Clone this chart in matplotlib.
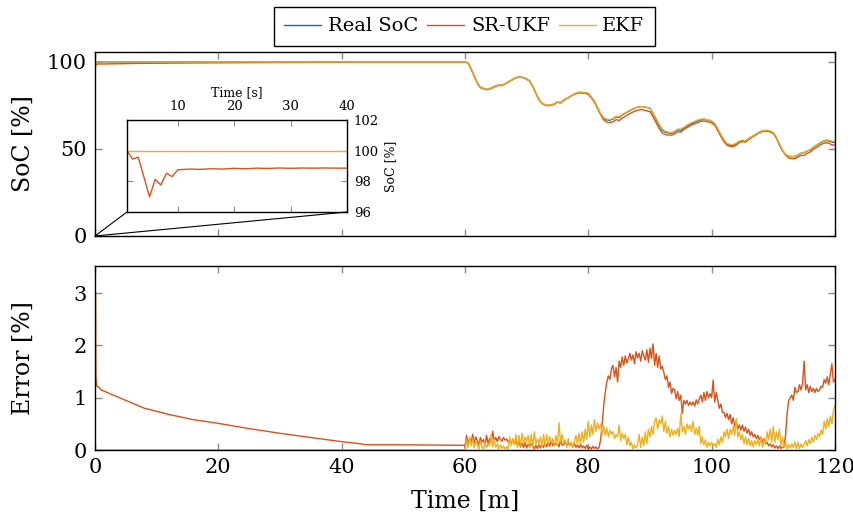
import numpy as np
import matplotlib.pyplot as plt
from matplotlib.patches import ConnectionPatch

plt.rcParams['font.family'] = ['DejaVu Serif']

C_REAL = '#0072BD'
C_UKF = '#D95319'
C_EKF = '#EDB120'

# ---- data (time in minutes) ----
# first hour: battery at rest, SoC 100 %
t_early = [0, 0.08, 0.15, 0.3, 0.67, 1, 2, 5, 8, 12, 16, 20, 25, 30, 35, 40, 43, 44, 50, 55, 60]
err_ukf_early = [0, 3.0, 1.4, 1.22, 1.2, 1.15, 1.10, 0.95, 0.80, 0.68, 0.58, 0.51, 0.41,
                 0.32, 0.24, 0.16, 0.12, 0.10, 0.10, 0.095, 0.09]
err_ekf_early = [0] * len(t_early)
soc_real_early = [100] * len(t_early)

# second hour, real SoC every 0.5 min from 60 to 120
soc_real_late = [
    100, 99.5, 96, 92, 88, 85.5, 84.8, 84.3, 84.6, 85.5, 86.2, 86.8, 86.5, 87.5, 88.5, 89.5,
    90.5, 91.2, 91.3, 91.0, 90.2, 89.0, 86.0, 82.0, 78.5, 76.2, 75.3, 75.0, 75.3, 75.8, 77.0,
    76.6, 78.0, 79.0, 80.0, 81.0, 81.8, 82.4, 82.3, 82.0, 81.6, 79.5, 77.0, 73.5, 70.0, 67.5,
    66.7, 66.5, 67.2, 68.5, 68.0, 69.5, 70.5, 71.5, 72.5, 73.3, 74.0, 74.3, 74.2, 73.8, 73.4,
    70.5, 67.0, 63.5, 60.8, 59.6, 59.2, 59.0, 59.8, 61.0, 60.7, 62.0, 63.2, 64.2, 65.0, 65.8,
    66.5, 67.0, 66.9, 66.5, 66.0, 64.5, 61.5, 58.0, 55.0, 52.8, 52.2, 52.0, 52.8, 54.2, 54.8,
    54.4, 55.8, 57.0, 58.0, 59.2, 60.0, 60.5, 60.4, 60.0, 59.0, 56.5, 52.5, 49.0, 46.8, 45.8,
    45.6, 45.6, 46.5, 47.5, 48.0, 48.8, 49.5, 51.0, 52.0, 53.2, 54.2, 54.8, 54.6, 54.0, 53.6]

# absolute errors every 0.25 min from 60 to 120 (one row per minute)
err_ukf_late = [
    0.05, 0.28, 0.10, 0.22,  0.14, 0.30, 0.12, 0.25,  0.18, 0.10, 0.24, 0.15,
    0.20, 0.08, 0.28, 0.12,  0.22, 0.15, 0.36, 0.18,  0.24, 0.16, 0.26, 0.20,
    0.17, 0.24, 0.19, 0.21,  0.15, 0.20, 0.14, 0.18,  0.12, 0.17, 0.09, 0.15,
    0.06, 0.13, 0.05, 0.14,  0.04, 0.11, 0.06, 0.12,  0.08, 0.02, 0.09, 0.03,
    0.10, 0.04, 0.12, 0.05,  0.14, 0.06, 0.16, 0.07,  0.18, 0.08, 0.14, 0.10,
    0.12, 0.06, 0.20, 0.09,  0.10, 0.16, 0.08, 0.14,  0.08, 0.13, 0.06, 0.12,
    0.05, 0.10, 0.04, 0.11,  0.04, 0.08, 0.03, 0.09,  0.02, 0.06, 0.02, 0.07,
    0.03, 0.06, 0.02, 0.05,  0.20, 0.50, 0.85, 1.10,  1.30, 1.42, 1.35, 1.55,
    1.62, 1.40, 1.58, 1.30,  1.70, 1.58, 1.78, 1.62,  1.80, 1.66, 1.75, 1.85,
    1.72, 1.82, 1.65, 1.88,  1.76, 1.85, 1.70, 1.90,  1.80, 1.72, 1.92, 1.68,
    1.95, 1.75, 2.03, 1.62,  1.85, 1.58, 1.80, 1.55,  1.60, 1.48, 1.35, 1.42,
    1.20, 1.30, 1.08, 1.18,  1.15, 0.98, 1.12, 0.95,  1.05, 0.70, 0.95, 0.88,
    0.95, 0.85, 0.92, 0.86,  0.92, 0.84, 0.96, 0.88,  0.98, 1.05, 0.92, 1.10,
    0.95, 1.12, 1.00, 1.08,  1.00, 1.34, 0.92, 1.10,  0.95, 0.80, 0.88, 0.72,
    0.72, 0.62, 0.70, 0.58,  0.68, 0.50, 0.62, 0.45,  0.55, 0.40, 0.48, 0.38,
    0.48, 0.36, 0.44, 0.32,  0.40, 0.28, 0.35, 0.25,  0.30, 0.22, 0.28, 0.20,
    0.25, 0.15, 0.22, 0.12,  0.15, 0.08, 0.12, 0.06,  0.10, 0.04, 0.08, 0.03,
    0.08, 0.03, 0.06, 0.05,  0.30, 0.70, 0.95, 1.00,  1.05, 0.95, 1.20, 1.10,
    1.12, 1.25, 1.15, 1.28,  1.70, 1.15, 1.25, 1.10,  1.22, 1.12, 1.18, 1.10,
    1.18, 1.12, 1.15, 1.22,  1.20, 1.35, 1.28, 1.40,  1.25, 1.45, 1.65, 1.30,
    1.35]
err_ekf_late = [
    0.02, 0.20, 0.05, 0.25,  0.08, 0.22, 0.04, 0.18,  0.10, 0.02, 0.18, 0.06,
    0.02, 0.15, 0.04, 0.12,  0.08, 0.30, 0.06, 0.20,  0.05, 0.12, 0.02, 0.10,
    0.03, 0.08, 0.02, 0.06,  0.02, 0.25, 0.08, 0.22,  0.10, 0.30, 0.05, 0.28,
    0.08, 0.32, 0.12, 0.25,  0.15, 0.28, 0.06, 0.30,  0.05, 0.35, 0.10, 0.22,
    0.12, 0.25, 0.05, 0.30,  0.08, 0.30, 0.12, 0.26,  0.15, 0.22, 0.08, 0.28,
    0.10, 0.52, 0.15, 0.30,  0.12, 0.20, 0.05, 0.22,  0.08, 0.15, 0.04, 0.18,
    0.28, 0.10, 0.32, 0.12,  0.35, 0.15, 0.40, 0.20,  0.55, 0.25, 0.48, 0.30,
    0.58, 0.35, 0.52, 0.40,  0.50, 0.30, 0.45, 0.28,  0.42, 0.25, 0.38, 0.30,
    0.35, 0.22, 0.30, 0.25,  0.48, 0.18, 0.32, 0.22,  0.30, 0.10, 0.25, 0.08,
    0.15, 0.02, 0.10, 0.04,  0.10, 0.30, 0.05, 0.25,  0.08, 0.35, 0.12, 0.40,
    0.25, 0.45, 0.30, 0.55,  0.62, 0.40, 0.58, 0.50,  0.65, 0.35, 0.55, 0.32,
    0.45, 0.25, 0.40, 0.28,  0.38, 0.30, 0.42, 0.26,  0.70, 0.35, 0.45, 0.30,
    0.50, 0.40, 0.48, 0.35,  0.55, 0.30, 0.42, 0.28,  0.45, 0.12, 0.25, 0.10,
    0.20, 0.05, 0.15, 0.08,  0.15, 0.08, 0.12, 0.05,  0.20, 0.10, 0.25, 0.15,
    0.35, 0.25, 0.40, 0.22,  0.40, 0.30, 0.45, 0.28,  0.60, 0.25, 0.35, 0.20,
    0.30, 0.12, 0.25, 0.10,  0.22, 0.08, 0.18, 0.06,  0.18, 0.10, 0.20, 0.08,
    0.25, 0.05, 0.20, 0.10,  0.35, 0.20, 0.40, 0.15,  0.45, 0.15, 0.35, 0.20,
    0.40, 0.08, 0.25, 0.05,  0.15, 0.02, 0.10, 0.04,  0.12, 0.05, 0.15, 0.03,
    0.15, 0.03, 0.12, 0.05,  0.10, 0.18, 0.08, 0.20,  0.12, 0.25, 0.15, 0.28,
    0.20, 0.32, 0.25, 0.38,  0.30, 0.55, 0.40, 0.60,  0.45, 0.65, 0.50, 0.75,
    0.85]

# zoom on the first 40 s (seconds)
t_zoom = [1, 2, 3, 5, 6, 7, 8, 9, 10, 12, 14, 16, 18, 20, 22, 24, 26, 28, 30, 32, 34, 36, 38, 40]
soc_ukf_zoom = [100, 99.45, 99.58, 96.99, 98.13, 97.76, 98.53, 98.31, 98.75, 98.80, 98.78,
                98.82, 98.80, 98.85, 98.82, 98.86, 98.84, 98.87, 98.85, 98.87, 98.86, 98.87,
                98.86, 98.86]
soc_ekf_zoom = [100] * len(t_zoom)

# SoC estimates: real SoC with the filter errors (error grid is twice as fine)
t_soc_late = np.linspace(60, 120, len(soc_real_late))
t_err_late = np.linspace(60, 120, len(err_ukf_late))
real_late = np.array(soc_real_late)
t_soc = np.concatenate([t_early, t_soc_late])
soc_real = np.concatenate([soc_real_early, real_late])
soc_ukf = np.concatenate([np.array(soc_real_early) - err_ukf_early,
                          real_late - np.array(err_ukf_late[::2])])
soc_ekf = np.concatenate([np.array(soc_real_early) + err_ekf_early,
                          real_late + np.array(err_ekf_late[::2])])
t_err = np.concatenate([t_early, t_err_late])
err_ukf = np.concatenate([err_ukf_early, err_ukf_late])
err_ekf = np.concatenate([err_ekf_early, err_ekf_late])


def style_axes(ax, size=15):
    ax.tick_params(direction='in', length=5, width=1, color='#8c8c8c',
                   top=True, right=True, labelsize=size, pad=6)
    for s in ax.spines.values():
        s.set_linewidth(1.0)


fig = plt.figure(figsize=(8.54, 5.19), dpi=100)
ax1 = fig.add_axes([0.1112, 0.5453, 0.8665, 0.3545])
ax2 = fig.add_axes([0.1112, 0.1329, 0.8665, 0.3545])

lw = 1.0
l1, = ax1.plot(t_soc, soc_real, c=C_REAL, lw=lw, label='Real SoC')
l2, = ax1.plot(t_soc, soc_ukf, c=C_UKF, lw=lw, label='SR-UKF')
l3, = ax1.plot(t_soc, soc_ekf, c=C_EKF, lw=lw, label='EKF')
ax1.set_xlim(0, 120)
ax1.set_ylim(0, 105.7)
ax1.set_xticks(range(0, 121, 20))
ax1.set_xticklabels([])
ax1.set_yticks([0, 50, 100])
ax1.set_ylabel('SoC [%]', fontsize=17)
ax1.yaxis.set_label_coords(-0.081, 0.5)
style_axes(ax1)

ax2.plot(t_err, err_ukf, c=C_UKF, lw=lw)
ax2.plot(t_err, err_ekf, c=C_EKF, lw=lw)
ax2.set_xlim(0, 120)
ax2.set_ylim(0, 3.52)
ax2.set_xticks(range(0, 121, 20))
ax2.set_yticks([0, 1, 2, 3])
ax2.set_xlabel('Time [m]', fontsize=17, labelpad=9)
ax2.set_ylabel('Error [%]', fontsize=17)
ax2.yaxis.set_label_coords(-0.081, 0.5)
style_axes(ax2)

# inset with the first seconds
axin = fig.add_axes([0.1487, 0.5915, 0.2576, 0.1773])
axin.plot(t_zoom, soc_ukf_zoom, c=C_UKF, lw=lw)
axin.plot(t_zoom, soc_ekf_zoom, c=C_EKF, lw=lw)
axin.set_xlim(1, 40)
axin.set_ylim(96, 102)
axin.set_xticks([10, 20, 30, 40])
axin.set_yticks([96, 98, 100, 102])
axin.tick_params(direction='in', length=4, width=0.8, color='#8c8c8c', top=True,
                 bottom=True, left=True, right=True, labeltop=True, labelbottom=False,
                 labelleft=False, labelright=True, labelsize=9.5, pad=5)
axin.xaxis.set_label_position('top')
axin.yaxis.set_label_position('right')
axin.set_xlabel('Time [s]', fontsize=9, labelpad=3)
axin.set_ylabel('SoC [%]', fontsize=9, labelpad=4)
for s in axin.spines.values():
    s.set_linewidth(1.0)

for xa in (1, 40):
    con = ConnectionPatch(xyA=(xa, 96), coordsA=axin.transData,
                          xyB=(0, 0), coordsB=ax1.transData, color='black', lw=0.8)
    fig.add_artist(con)

fig.legend(handles=[l1, l2, l3], loc='center', bbox_to_anchor=(0.5439, 0.949), ncol=3,
           fontsize=14, frameon=True, fancybox=False, edgecolor='black', framealpha=1,
           handlelength=1.9, handletextpad=0.35, columnspacing=0.45, borderpad=0.55,
           borderaxespad=0)

fig.savefig('out.png', dpi=100)
